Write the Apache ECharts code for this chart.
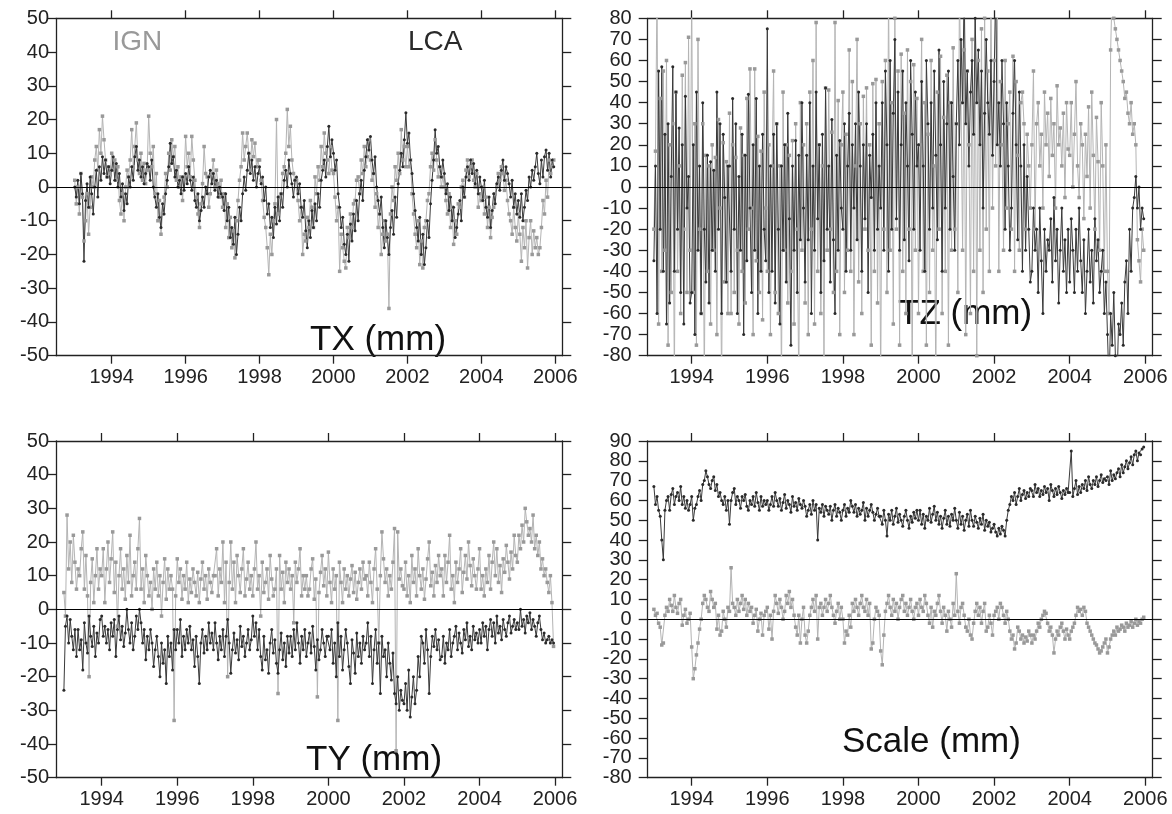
<!DOCTYPE html>
<html><head><meta charset="utf-8">
<script src="https://cdn.jsdelivr.net/npm/echarts@6/dist/echarts.min.js"></script>
<style>html,body{margin:0;padding:0;background:#fff}#c{width:1172px;height:814px}</style>
</head><body><div id="c"></div>
<script>
// Tick labels (years) and sampling schedule (half-monthly, starting 1993.0)
const yearTicks = [1994, 1996, 1998, 2000, 2002, 2004, 2006];
const START_YEAR = 1993, SAMPLES_PER_YEAR = 24;

// TX (mm)
const txIGN = [
 2,-5,0,-8,4,-3,-16,-10,-2,-14,-6,3, 0,8,12,5,17,10,21,14,8,3,6,4,
 10,5,8,2,6,-4,-8,-2,-10,0,5,3, 8,17,6,12,19,8,4,10,2,7,1,5,
 21,10,6,12,-2,4,-10,-4,-14,-8,-3,4, 0,10,5,14,9,12,2,6,0,3,-4,3,
 15,6,10,3,15,8,2,-3,-8,-12,-5,1, 12,4,3,-6,-2,4,8,0,5,1,-3,2,
 -6,-2,-12,-5,-15,-9,-18,-13,-21,-10,-4,2, 6,16,8,12,16,10,5,14,9,13,6,8,
 8,2,-4,-9,-12,-18,-26,-14,-20,-10,-5,20, -8,-3,-2,4,6,10,23,12,18,8,4,2,
 2,-4,-10,-6,-20,-14,-16,-9,-12,-4,-6,-12, 3,-2,6,2,12,6,16,10,8,4,12,5,
 4,-3,-10,-6,-25,-14,-18,-22,-24,-12,-15,-8, -12,-5,-4,2,3,-2,8,4,12,6,9,14,
 8,2,4,-6,-2,-12,-8,-20,-14,-10,-16,-14, -36,-8,0,-4,6,2,10,4,17,8,12,6,
 12,6,8,-2,-8,-14,-18,-10,-23,-16,-24,-12, -10,-4,-2,6,10,5,14,8,3,6,0,3,
 0,-4,-8,-2,-12,-6,-17,-10,-14,-5,-6,0, 2,-3,5,8,3,6,8,2,0,4,-6,-2,
 -4,0,-8,-3,-12,-6,-15,-9,-6,-2,0,4, 2,6,4,-1,2,-4,-8,-10,-14,-6,-12,-16,
 -8,-14,-22,-12,-18,-10,-24,-15,-10,-20,-13,-18, -15,-20,-18,-12,-4,-8,2,-3,8,4,6,8];
const txLCA = [
 0,-3,2,-5,4,-2,-22,-4,1,-6,3,-2, -8,0,5,-3,6,2,9,4,8,3,6,1,
 5,9,2,7,0,4,-3,1,-7,-2,-5,3, 0,6,2,9,12,5,8,3,6,1,4,7,
 6,2,8,0,-3,-6,-2,-9,-12,-5,-8,-2, 2,6,13,7,9,3,5,0,2,-2,3,-1,
 4,1,6,2,-1,3,-4,-6,-2,-10,-7,-3, -6,0,-2,3,5,1,4,-1,2,-3,0,-2,
 -3,-7,-2,-10,-6,-15,-12,-17,-9,-20,-14,-6, -10,-2,3,-1,5,10,4,8,2,6,0,4,
 6,1,3,-4,0,-8,-5,-12,-9,-15,-6,-11, -3,-10,-2,-6,2,5,0,8,4,1,-3,2,
 3,-2,1,-6,-9,-4,-13,-18,-10,-15,-7,-12, -5,-10,-2,-6,2,5,8,3,12,18,9,14,
 10,5,8,-2,-6,-12,-9,-17,-20,-14,-22,-11, -16,-8,-13,-4,-10,-2,2,-4,5,9,14,11,
 15,8,4,9,0,-4,-8,-3,-12,-18,-10,-15, -20,-12,-7,-14,-3,-9,1,5,10,6,14,22,
 13,16,8,4,-2,-7,-12,-16,-9,-20,-14,-23, -18,-10,-15,-5,2,8,17,10,12,6,3,8,
 4,-2,1,-7,-3,-10,-6,-15,-12,-8,-4,-10, 0,-3,3,6,2,8,4,7,1,5,-2,3,
 0,-4,2,-6,-9,-3,-12,-7,-2,-5,1,3, -1,5,8,2,6,4,1,-3,2,-6,-2,-8,
 -4,-9,-2,-10,-6,-1,-4,3,0,5,2,6, 10,4,1,8,3,9,11,5,10,3,8,6];

// TZ (mm)
const tzIGN = [
 -20,17,95,-65,42,-40,55,-30,60,-75,20,-50, 30,-95,45,-40,10,-60,53,-20,59,-50,71,-30,
 95,-50,30,-75,70,-20,-60,30,-95,15,-40,10, -65,20,-30,14,-70,32,-10,-95,21,-45,12,-60,
 35,-60,20,-50,14,-30,-65,28,-40,15,-55,42, -20,56,-10,-70,56,-35,24,-50,17,-63,45,-10,
 -40,20,-70,10,55,-50,30,-60,10,-95,45,-30, 20,-55,15,-40,22,-65,30,-20,-95,40,-30,20,
 -55,30,-70,45,-20,60,-65,78,-40,20,-60,10, -85,47,-30,46,-20,26,-50,78,-40,41,-70,20,
 45,-50,25,-30,65,-40,50,-70,10,70,-45,30, -60,43,-20,47,-30,20,-75,49,-40,51,-55,30,
 -95,50,-20,60,-50,95,-30,40,-65,80,-20,55, -75,63,-40,35,-60,65,-20,50,-95,58,-30,42,
 -60,20,70,-40,40,-75,25,-50,60,-30,10,-95, 45,-20,62,-60,33,-40,53,-75,40,-30,66,-20,
 30,-50,95,40,-30,65,-70,55,20,-60,70,-40, 85,-80,60,-30,75,-50,80,-20,55,-40,95,-10,
 60,10,95,-40,50,20,-30,60,-10,30,45,-20, 62,-40,50,15,-30,40,45,30,-20,25,10,-10,
 20,55,-20,30,40,10,25,-10,45,20,35,5, 42,15,30,-10,48,20,28,10,35,-5,40,18,
 15,40,0,25,50,10,-5,30,20,-15,25,5, 38,-10,45,15,-20,33,12,-30,40,10,-40,20,
 -40,-60,65,95,80,75,70,65,60,55,50,42, 45,35,30,40,25,30,20,-25,-35,-45,-20,-30];
const tzLCA = [
 -35,10,-60,55,-20,57,-40,25,-65,30,-55,5, 57,-40,45,-20,28,-50,20,-65,43,-10,5,-55,
 -50,20,-70,45,-30,10,-60,40,-20,-45,15,-55, 12,-30,8,-40,45,-20,30,-60,25,-5,-45,10,
 10,-40,42,-20,30,-60,5,-30,25,-70,15,-35, 44,-10,-50,20,-30,42,-60,10,-40,25,-20,-35,
 75,-50,10,-40,25,-55,30,-20,-65,10,-30,20, -45,35,-15,-75,10,-30,22,-50,15,-25,40,-10,
 -45,15,-25,40,-60,10,-30,45,-15,20,-50,25, -35,47,-20,10,-45,32,-25,-60,15,-30,22,-10,
 -20,30,-40,10,35,-30,20,-10,30,-25,45,10, -40,20,-15,30,-50,15,-5,25,-30,40,-20,10,
 -10,40,-30,55,20,-40,60,-20,35,70,-15,45, -30,20,55,-25,40,10,-35,60,25,-20,45,10,
 20,-30,50,10,-40,60,30,-20,40,-10,55,15, -25,65,20,-40,50,-10,30,55,-20,40,5,-30,
 30,60,20,70,40,95,30,55,10,45,60,25, 80,40,65,20,55,-10,35,70,40,25,60,15,
 50,95,20,40,10,60,30,-20,40,10,-30,-10, 35,60,20,-25,45,10,-40,20,-30,5,-20,-45,
 -40,-10,-30,-20,-50,-10,-35,-60,-20,-40,-25,-30, -15,-45,-5,-35,-20,-55,-30,-10,-40,-25,-50,-20,
 -45,-15,-30,-50,-20,-40,-10,-35,-50,-25,-60,-40, -20,-45,-30,-55,-15,-35,-25,-50,-40,-30,-60,-45,
 -70,-95,-60,-75,-50,-80,-95,-65,-70,-55,-75,-45, -35,-60,-20,-40,-10,-5,5,-10,0,-20,-10,-15];

// TY (mm)
const tyIGN = [
 5,-2,28,12,20,8,22,14,6,12,10,18, 23,6,16,4,-20,8,15,2,10,18,6,12,
 10,18,2,12,20,8,15,23,5,14,-5,10, 18,6,12,3,16,8,22,4,10,14,6,18,
 27,6,12,2,16,10,4,8,0,12,6,14, 4,10,-2,8,15,3,12,6,10,6,-33,4,
 15,8,12,3,10,6,14,2,9,5,12,8, 4,11,2,9,14,6,10,3,12,8,5,10,
 10,18,4,12,8,20,2,14,-20,8,20,6, 14,2,16,10,5,12,18,4,9,14,6,10,
 4,12,20,6,10,-2,14,5,8,12,3,16, 9,4,6,12,-25,16,6,11,2,14,8,12,
 6,10,-4,14,8,12,18,4,10,6,10,4, 6,12,15,3,9,-26,5,11,16,7,12,4,
 17,8,2,12,6,10,-33,14,8,2,12,6, 10,4,9,13,5,11,3,8,12,6,14,9,
 10,4,14,8,2,12,18,6,-10,10,23,15, 8,12,4,10,6,14,24,-42,23,9,12,7,
 6,14,4,10,2,16,8,12,4,18,10,6, 12,3,9,15,20,7,11,4,13,8,16,10,
 12,4,16,8,14,22,6,10,2,14,8,12, 18,5,11,16,9,20,13,7,15,10,6,12,
 18,6,10,4,12,8,16,6,14,20,10,18, 8,13,5,15,11,19,14,9,17,12,22,16,
 14,22,18,25,20,30,26,22,24,20,28,18, 22,16,20,12,15,10,12,8,5,10,2,-11];
const tyLCA = [
 -24,-5,-2,-10,-3,-8,-12,-6,-14,-6,-12,-9, -18,-4,-10,-13,-2,-8,-11,-5,-14,-7,-10,-3,
 -2,-8,-5,-10,-6,-12,-4,-8,-3,-14,-6,-2, -9,-5,-11,-7,0,-6,-10,-4,-12,-8,-2,-6,
 0,-4,-10,-6,-15,-8,-12,-6,-10,-17,-12,-8, -14,-20,-10,-16,-12,-22,-8,-14,-10,-18,-6,-12,
 -6,-10,-3,-14,-8,-12,-6,-10,-5,-12,-9,-17, -8,-14,-22,-10,-6,-13,-8,-12,-4,-10,-7,-12,
 -4,-10,-15,-8,-12,-6,-14,-8,-3,-10,-19,-12, -7,-13,-9,-15,-5,-11,-8,-14,-10,-6,-12,-9,
 -2,-8,-4,-12,-6,-14,-18,-8,-15,-12,-19,-10, -6,-13,-9,-16,-19,-12,-7,-15,-10,-17,-8,-13,
 -8,-14,-6,-12,-4,-10,-16,-8,-12,-6,-14,-10, -7,-13,-5,-11,-18,-9,-15,-12,-6,-10,-14,-8,
 -8,-12,-6,-16,-10,-20,-4,-14,-8,-18,-12,-6, -10,-17,-22,-9,-13,-19,-7,-14,-10,-16,-8,-12,
 -10,-4,-14,-8,-22,-12,-6,-16,-10,-25,-8,-14, -12,-20,-10,-16,-21,-13,-25,-28,-20,-30,-24,-27,
 -28,-22,-30,-18,-32,-26,-20,-28,-24,-14,-20,-8, -10,-16,-6,-12,-25,-14,-8,-11,-6,-12,-9,-15,
 -14,-8,-16,-10,-12,-6,-14,-10,-8,-5,-12,-7, -10,-13,-6,-9,-4,-11,-8,-12,-5,-9,-7,-10,
 -6,-10,-4,-8,-5,-12,-6,-3,-8,-4,-10,-2, -7,-5,-9,-3,-6,-8,-4,-2,-7,-5,-3,-6,
 -4,-6,0,-5,-3,-7,-2,-4,-1,-6,-3,-5, -8,-4,-2,-6,-9,-7,-10,-9,-8,-10,-9,-10];

// Scale (mm)
const scIGN = [
 5,2,3,-2,-4,-13,-12,2,6,4,10,7, 4,12,6,3,8,10,-3,2,5,-2,0,3,
 -14,-30,-25,-18,-12,-5,0,8,12,10,6,4, 14,10,6,8,-5,2,-8,-6,4,0,-4,6,
 4,26,8,6,2,10,4,8,12,5,10,2, 8,4,6,-2,2,5,-6,0,3,-8,2,4,
 6,-5,2,-10,4,12,8,3,10,6,0,4, 12,8,14,6,10,2,-4,-8,2,-12,0,6,
 -8,-12,-6,2,6,10,4,12,-10,6,8,2, 6,10,4,8,12,6,2,-2,4,8,0,6,
 0,-12,-6,-8,2,-4,8,4,10,6,2,8, 12,6,4,10,2,8,-15,-12,0,6,4,2,
 -16,-23,-8,4,8,12,6,2,10,4,8,0, 6,10,12,4,8,2,6,10,4,0,6,8,
 2,10,6,4,12,8,2,-2,6,-4,4,2, 8,12,4,-2,6,2,-6,4,0,-4,8,2,
 23,4,-2,6,8,2,-4,-6,0,-8,-10,-2, 4,8,2,6,-2,4,8,-6,-4,2,-2,-8,
 2,4,6,0,8,6,2,-2,4,0,-6,-10, -8,-15,-12,-4,-6,-10,-8,-12,-9,-11,-6,-8,
 -12,-8,-10,-6,-2,-4,0,2,4,3,-2,-6, -4,-8,-17,-10,-6,-8,-4,-2,-6,-10,-5,-8,
 -10,-6,-4,-2,2,6,4,5,2,6,4,-2, -4,-6,-8,-10,-12,-13,-15,-17,-16,-14,-12,-10,
 -17,-14,-10,-8,-6,-8,-4,-6,-5,-3,-4,-6, -2,-4,-3,-1,-4,-2,0,-3,-1,-2,0,1];
const scLCA = [
 67,58,62,55,52,40,30,55,60,62,55,63, 66,58,62,64,60,67,58,62,56,60,55,58,
 62,50,56,58,62,65,60,68,70,75,72,68, 66,70,72,65,68,62,64,60,58,62,55,60,
 48,60,64,66,58,62,60,56,62,60,63,57, 55,60,58,62,57,64,59,55,62,57,60,58,
 60,55,58,62,57,64,60,57,61,55,59,63, 56,60,58,54,62,57,59,55,61,58,56,60,
 57,52,55,58,53,60,55,58,40,56,54,58, 52,57,55,53,57,50,55,58,52,56,54,50,
 55,58,52,56,54,60,57,54,58,52,56,53, 55,59,50,56,52,55,58,54,50,53,56,52,
 52,48,55,50,42,53,50,55,48,52,56,49, 53,50,47,52,55,50,46,52,49,54,51,55,
 50,55,48,53,46,52,50,56,49,53,57,50, 54,48,52,46,51,55,48,52,47,53,50,56,
 50,46,54,48,52,45,50,53,47,55,50,47, 52,49,46,51,48,53,45,50,47,49,44,46,
 48,44,42,46,43,47,45,42,50,55,58,62, 60,64,58,62,66,60,63,65,61,64,62,66,
 65,62,68,64,66,62,65,63,67,64,66,60, 68,65,62,66,63,67,64,61,65,63,66,64,
 64,85,62,66,70,63,67,64,68,66,70,65, 72,68,66,70,68,72,67,70,73,69,71,70,
 72,68,75,70,73,71,74,76,72,78,74,77, 80,76,79,82,78,83,85,80,84,83,86,87];

const FONT = 'Liberation Sans';
const AX = '#222';

const panels = [
  {grid:{left:56, top:18.3, width:506.3, height:337.4}, xmin:1992.493, xmax:2006.19, ymin:-50, ymax:50, ign:txIGN, lca:txLCA, ylm:7},
  {grid:{left:647.7, top:18.3, width:505, height:337.4}, xmin:1992.836, xmax:2006.196, ymin:-80, ymax:80, ign:tzIGN, lca:tzLCA, ylm:16},
  {grid:{left:56, top:441, width:506.3, height:336.7}, xmin:1992.791, xmax:2006.19, ymin:-50, ymax:50, ign:tyIGN, lca:tyLCA, ylm:7},
  {grid:{left:647.7, top:441, width:505, height:336.7}, xmin:1992.836, xmax:2006.196, ymin:-80, ymax:90, ign:scIGN, lca:scLCA, ylm:16}
];

function pairs(vals){
  return vals.map((v,i)=>[START_YEAR + i / SAMPLES_PER_YEAR, v]);
}

const grids=[], xAxes=[], yAxes=[], series=[];
panels.forEach((p,gi)=>{
  grids.push(Object.assign({containLabel:false}, p.grid));
  ['bottom','top'].forEach(pos=>{
    xAxes.push({type:'value', gridIndex:gi, position:pos, min:p.xmin, max:p.xmax,
      axisLine:{show:true, onZero:false, lineStyle:{color:AX, width:1.3}},
      axisTick:{show:true, inside:false, length:8, customValues:yearTicks, lineStyle:{color:AX, width:1.3}},
      axisLabel:{show:pos==='bottom', customValues:yearTicks, formatter:v=>String(v), fontSize:20, color:'#222', fontFamily:FONT, margin:12},
      splitLine:{show:false}});
  });
  ['left','right'].forEach(pos=>{
    yAxes.push({type:'value', gridIndex:gi, position:pos, min:p.ymin, max:p.ymax, interval:10,
      axisLine:{show:true, onZero:false, lineStyle:{color:AX, width:1.3}},
      axisTick:{show:true, inside:false, length:9, lineStyle:{color:AX, width:1.3}},
      axisLabel:{show:pos==='left', fontSize:20, color:'#222', fontFamily:FONT, margin:p.ylm},
      splitLine:{show:false}});
  });
  series.push({type:'line', name:'IGN', xAxisIndex:2*gi, yAxisIndex:2*gi, data:pairs(p.ign),
    symbol:'rect', symbolSize:3.5, showAllSymbol:true, animation:false, silent:true, clip:true,
    lineStyle:{color:'#b4b4b4', width:1}, itemStyle:{color:'#999'}});
  series.push({type:'line', name:'LCA', xAxisIndex:2*gi, yAxisIndex:2*gi, data:pairs(p.lca),
    symbol:'circle', symbolSize:3, showAllSymbol:true, animation:false, silent:true, clip:true,
    lineStyle:{color:'#3a3a3a', width:1}, itemStyle:{color:'#2a2a2a'},
    markLine:{silent:true, symbol:'none', animation:false, label:{show:false},
      lineStyle:{color:'#000', type:'solid', width:1.2}, data:[{yAxis:0}]}});
});

const tfont = s => s + 'px "' + FONT + '"';
const graphic = [
  {type:'text', x:112.5, y:42, style:{text:'IGN', font:tfont(28), fill:'#999', verticalAlign:'middle'}},
  {type:'text', x:408, y:42, style:{text:'LCA', font:tfont(28), fill:'#2a2a2a', verticalAlign:'middle'}},
  {type:'text', x:310, y:340, style:{text:'TX (mm)', font:tfont(35), fill:'#111', verticalAlign:'middle'}},
  {type:'text', x:898, y:314, style:{text:'TZ (mm)', font:tfont(35), fill:'#111', verticalAlign:'middle'}},
  {type:'text', x:306, y:760, style:{text:'TY (mm)', font:tfont(35), fill:'#111', verticalAlign:'middle'}},
  {type:'text', x:842, y:742, style:{text:'Scale (mm)', font:tfont(35), fill:'#111', verticalAlign:'middle'}}
];

const chart = echarts.init(document.getElementById('c'), null, {renderer:'canvas'});
chart.setOption({animation:false, backgroundColor:'#fff', grid:grids, xAxis:xAxes, yAxis:yAxes, series:series, graphic:graphic});
</script></body></html>
